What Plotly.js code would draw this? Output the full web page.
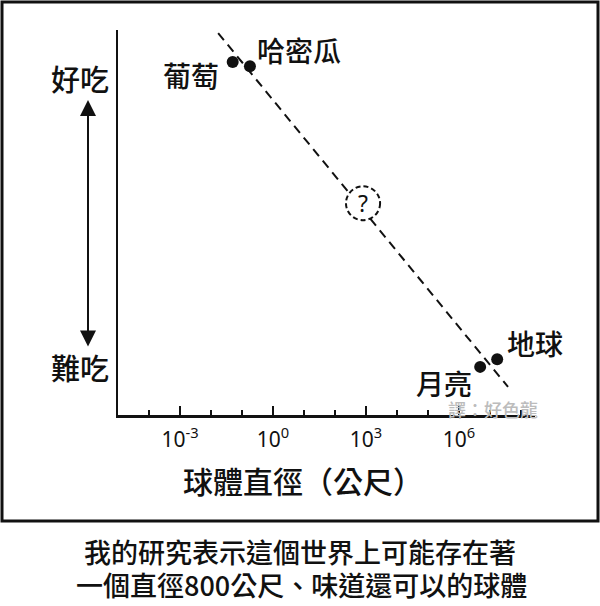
<!DOCTYPE html>
<html>
<head>
<meta charset="utf-8">
<script src="https://cdn.plot.ly/plotly-3.0.1.min.js"></script>
<style>
  html, body { margin: 0; padding: 0; background: #fff; }
  #plot { width: 600px; height: 606px; }
</style>
</head>
<body>
<div id="plot"></div>
<script>
'use strict';

// spheres: diameter (m) and tastiness (0 = bad .. 10 = good)
const sphereNames = ['葡萄', '哈密瓜', '月亮', '地球'];
const sphereDiameters = [0.05, 0.18, 4.8e6, 1.7e7];
const sphereTaste = [9.17, 9.06, 1.25, 1.45];

// the guessed sphere
const unknownDiameter = [800];
const unknownTaste = [5.5];

// dashed trend line ends
const trendDiameters = [0.017, 3.8e7];
const trendTaste = [9.92, 0.73];

// x axis ticks
const majorTicks = [1e-3, 1, 1e3, 1e6];
const majorTickText = ['10<sup>-3</sup>', '10<sup>0</sup>', '10<sup>3</sup>', '10<sup>6</sup>'];
const minorTicks = [1e-4, 1e-2, 1e-1, 10, 100, 1e4, 1e5, 1e7, 1e8];

const xTitle = '球體直徑（公尺）';
const goodLabel = '好吃';
const badLabel = '難吃';
const captionLines = ['我的研究表示這個世界上可能存在著', '一個直徑800公尺、味道還可以的球體'];
const watermark = '譯：好色龍';

// label offsets in pixels, per sphere
const labelShift = [[-42, -13], [49, 16], [-36, -16], [38, 16]];

const cjk = '"Noto Sans CJK TC", "Noto Sans CJK SC", sans-serif';
const ink = '#111';

// pixel -> paper helpers (plot area is 118..535 x 30..415)
const L = 118, R = 535, T = 30, B = 415;
function px(x) { return (x - L) / (R - L); }
function py(y) { return (B - y) / (B - T); }

function paperText(x, y, text, size, color) {
  return {
    x: px(x), y: py(y), xref: 'paper', yref: 'paper',
    xanchor: 'center', yanchor: 'middle',
    text: text, showarrow: false,
    font: {family: cjk, size: size, color: color || ink, weight: 500}
  };
}

const traces = [
  {
    type: 'scatter',
    mode: 'lines',
    x: trendDiameters,
    y: trendTaste,
    line: {color: ink, width: 2, dash: '9px,6px'},
    hoverinfo: 'skip'
  },
  {
    type: 'scatter',
    mode: 'markers',
    x: sphereDiameters,
    y: sphereTaste,
    marker: {color: ink, size: 12},
    hoverinfo: 'skip'
  }
];

var annotations = sphereNames.map(function (name, i) {
  return {
    x: Math.log10(sphereDiameters[i]),
    y: sphereTaste[i],
    xref: 'x', yref: 'y',
    xanchor: 'center', yanchor: 'middle',
    text: name,
    showarrow: false,
    xshift: labelShift[i][0],
    yshift: labelShift[i][1],
    font: {family: cjk, size: 28, color: ink, weight: 500}
  };
});

annotations.push({
  x: Math.log10(unknownDiameter[0]), y: unknownTaste[0],
  xref: 'x', yref: 'y',
  xanchor: 'center', yanchor: 'middle',
  text: '?', showarrow: false,
  font: {family: 'Noto Sans, sans-serif', size: 23, color: ink}
});

annotations.push(
  paperText(80, 78, goodLabel, 29),
  paperText(80, 367, badLabel, 29),
  // double arrow between the two
  {x: px(88), y: py(100), xref: 'paper', yref: 'paper', text: '', showarrow: true,
   ax: 0, ay: 248, axref: 'pixel', ayref: 'pixel',
   arrowside: 'end+start', arrowhead: 2, arrowsize: 1.6, arrowwidth: 2, arrowcolor: ink,
   startarrowhead: 2, startarrowsize: 1.6},
  paperText(303, 480, xTitle, 30),
  paperText(493, 409, watermark, 18, '#bcbcbc'),
  paperText(300, 551, captionLines[0], 27),
  paperText(301, 584, captionLines[1], 27)
);

// half size of the dashed circle, in decades and in taste units
const ringX = 0.55, ringY = 0.44;

var shapes = [
  // panel border
  {type: 'rect', xref: 'paper', yref: 'paper',
   x0: px(2), x1: px(598), y0: py(521), y1: py(2),
   line: {color: ink, width: 3}},
  // dashed circle round the question mark
  {type: 'circle', xref: 'x', yref: 'y',
   x0: unknownDiameter[0] / Math.pow(10, ringX), x1: unknownDiameter[0] * Math.pow(10, ringX),
   y0: unknownTaste[0] - ringY, y1: unknownTaste[0] + ringY,
   fillcolor: '#fff',
   line: {color: ink, width: 2, dash: '5px,3px'},
   layer: 'above'}
];

var layout = {
  width: 600,
  height: 606,
  paper_bgcolor: '#fff',
  plot_bgcolor: '#fff',
  showlegend: false,
  margin: {l: L, r: 600 - R, t: T, b: 606 - B, pad: 0},
  xaxis: {
    type: 'log',
    range: [-5, 8.45],
    showgrid: false,
    zeroline: false,
    showline: true,
    linecolor: ink,
    linewidth: 2.5,
    ticks: 'inside',
    ticklen: 9,
    tickwidth: 1.5,
    tickcolor: ink,
    tickvals: majorTicks,
    ticktext: majorTickText,
    ticklabelstandoff: 4,
    tickfont: {family: 'Noto Sans, sans-serif', size: 21, color: ink},
    minor: {tickvals: minorTicks, ticks: 'inside', ticklen: 5, tickwidth: 1.5, tickcolor: ink}
  },
  yaxis: {
    range: [0, 10],
    showgrid: false,
    zeroline: false,
    showline: true,
    linecolor: ink,
    linewidth: 2.5,
    showticklabels: false,
    ticks: ''
  },
  annotations: annotations,
  shapes: shapes
};

var config = {
  staticPlot: true,
  displayModeBar: false
};

Plotly.newPlot('plot', traces, layout, config);
</script>
</body>
</html>
